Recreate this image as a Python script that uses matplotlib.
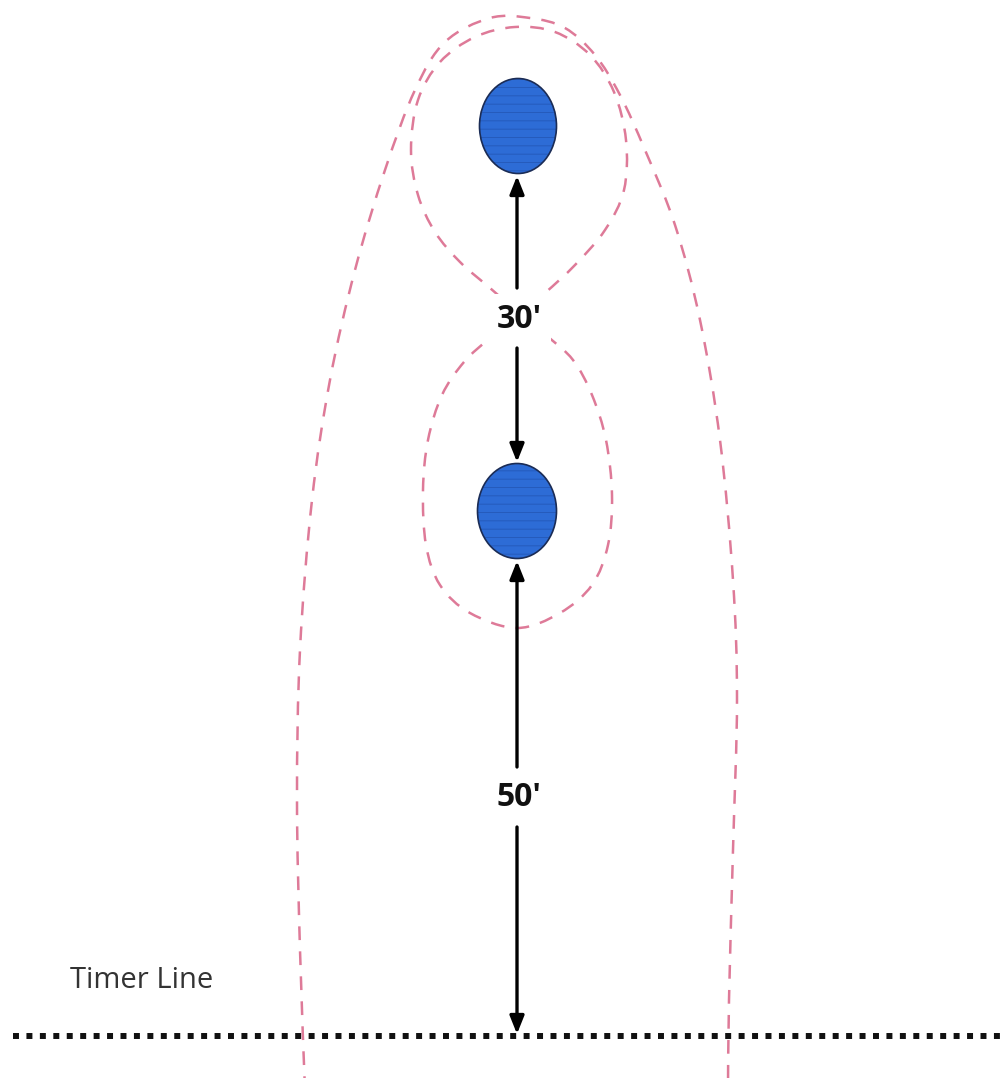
import numpy as np
import matplotlib
matplotlib.use("Agg")
import matplotlib.pyplot as plt
from matplotlib.path import Path
from matplotlib.patches import PathPatch, Ellipse

# ---------------- diagram data (pixel space, y down) ---------------- #
# outer arch, bottom-left -> top -> bottom-right
outer_x = [305, 300, 297, 300, 312, 330, 355, 385, 415, 445, 490, 530, 565, 595,
           620, 645, 675, 700, 720, 733, 737, 733, 729, 728]
outer_y = [1090, 950, 800, 650, 500, 380, 270, 170, 90, 42, 18, 18, 28, 55,
           95, 150, 225, 320, 440, 580, 700, 850, 1000, 1090]

# figure-eight around both barrels (closed), starts at the crossing
loop_x = [520, 490, 460, 435, 418, 411, 418, 440, 475, 515, 555, 590, 614, 626,
          624, 605, 575, 545,
          520, 490, 464, 442, 428, 423, 426, 440, 470, 517, 560, 592, 608, 612,
          606, 592, 573, 547]
loop_y = [314, 288, 262, 232, 195, 150, 100, 62, 37, 27, 32, 55, 92, 140,
          190, 230, 265, 293,
          314, 338, 362, 395, 440, 490, 545, 585, 613, 628, 613, 585, 545, 495,
          440, 395, 360, 336]

# barrels: centre x, centre y, width, height
barrel_x = [518, 517]
barrel_y = [126, 511]
barrel_w = [77, 79]
barrel_h = [95, 95]

# arrows: (tail y, tip y) on the centre line
arrow_x = 517
arrow_tail = [288, 348, 767, 827]
arrow_tip = [176, 462, 561, 1034]

# distance labels
dist_labels = ["30'", "50'"]
dist_y = [320, 798]

timer_y = 1036
timer_label = "Timer Line"

PINK = "#DE7A98"


def smooth_path(xs, ys, closed=False):
    # catmull-rom through the points, handed to matplotlib as cubic beziers
    pts = np.column_stack([xs, ys]).astype(float)
    n = len(pts)
    if closed:
        pts = np.vstack([pts, pts[0]])
    verts = [pts[0]]
    codes = [Path.MOVETO]
    m = len(pts)
    for i in range(m - 1):
        if closed:
            p0 = pts[(i - 1) % n]
            p3 = pts[(i + 2) % n]
        else:
            p0 = pts[max(i - 1, 0)]
            p3 = pts[min(i + 2, m - 1)]
        p1, p2 = pts[i], pts[i + 1]
        verts += [p1 + (p2 - p0) / 6.0, p2 - (p3 - p1) / 6.0, p2]
        codes += [Path.CURVE4] * 3
    return Path(verts, codes)


fig = plt.figure(figsize=(10.07, 10.78), dpi=100)
ax = fig.add_axes([0, 0, 1, 1])
ax.set_xlim(0, 1007)
ax.set_ylim(1078, 0)
ax.axis('off')

# pink dashed riding path
for path in [smooth_path(outer_x, outer_y), smooth_path(loop_x, loop_y, closed=True)]:
    ax.add_patch(PathPatch(path, fill=False, edgecolor=PINK, lw=1.8,
                           linestyle=(0, (5.5, 4.5)), zorder=2))

# barrels
plt.rcParams['hatch.linewidth'] = 0.6
for cx, cy, w, h in zip(barrel_x, barrel_y, barrel_w, barrel_h):
    ax.add_patch(Ellipse((cx, cy), w, h, facecolor='#2D6CD6', edgecolor='#2458B8',
                         hatch='--', lw=0, zorder=3))
    ax.add_patch(Ellipse((cx, cy), w, h, facecolor='none', edgecolor='#1B2C55',
                         lw=1.2, zorder=4))

# arrows
for t0, t1 in zip(arrow_tail, arrow_tip):
    ax.annotate('', xy=(arrow_x, t1), xytext=(arrow_x, t0),
                arrowprops=dict(arrowstyle='-|>,head_length=0.6,head_width=0.24',
                                mutation_scale=18, lw=2.4, color='black',
                                shrinkA=0, shrinkB=0), zorder=5)

# distance labels, white box hides the path crossing
for lab, y in zip(dist_labels, dist_y):
    ax.text(arrow_x + 2, y, lab, ha='center', va='center', fontsize=23,
            fontweight='bold', family='Open Sans', color='#111111', zorder=6,
            bbox=dict(boxstyle='square,pad=0.3', fc='white', ec='none'))

# timer line
ax.plot([13, 1007], [timer_y, timer_y], color='#111111', lw=4.3,
        dashes=(1.0, 1.25), dash_capstyle='butt', zorder=4)
ax.text(70, 980, timer_label, ha='left', va='center', fontsize=21,
        family='Open Sans', color='#333333')

fig.savefig('out.png', dpi=100, facecolor='white')
